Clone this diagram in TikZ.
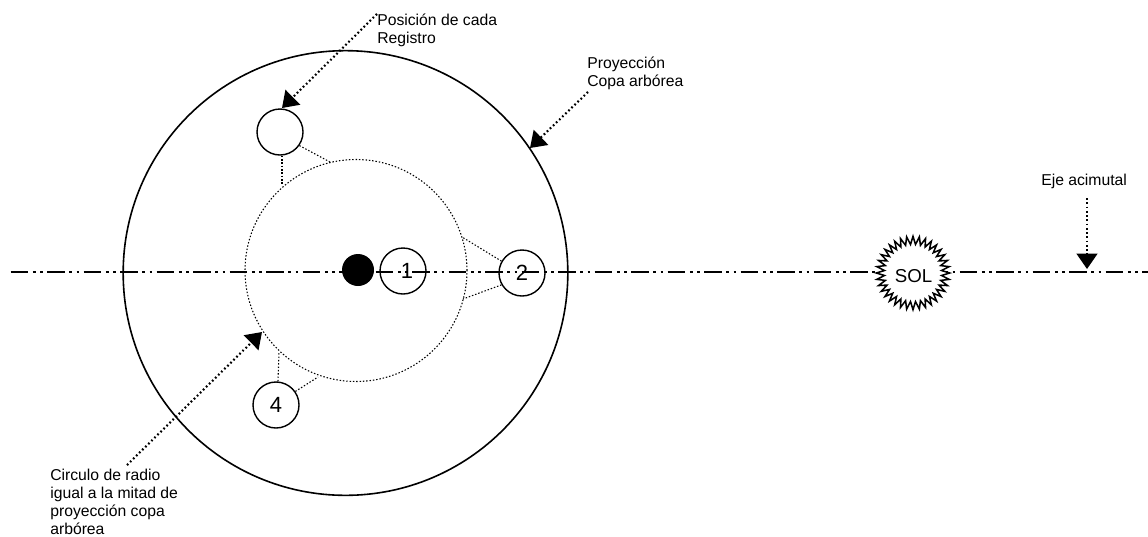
\documentclass[tikz,border=0pt]{standalone}
\usepackage{fontspec}
\setmainfont{Liberation Sans}
\usetikzlibrary{arrows.meta,shapes.geometric}

\tikzset{
    registro/.style={circle, draw, line width=1.05pt, fill=white, minimum size=34.5pt, inner sep=0pt, font=\fontsize{16.5}{16.5}\selectfont},
    nota/.style={align=left, anchor=north west, inner sep=0pt, font=\fontsize{11.8}{13.4}\selectfont},
    flecha/.style={line width=1.6pt, dash pattern=on 1.3pt off 1.9pt, -{Triangle[length=11.5pt,width=15.5pt]}},
    guia/.style={line width=0.8pt, dash pattern=on 1.1pt off 1.4pt},
}

\begin{document}
\begin{tikzpicture}[x=0.75pt,y=-0.75pt]
    \useasboundingbox (0,0) rectangle (1148,536);

    % Axis
    \coordinate (ejeA) at (10.7,271.7);
    \coordinate (ejeB) at (1148,271.7);
    \draw[line width=1.3pt, dash pattern=on 13.3pt off 3.4pt on 1.9pt off 3.4pt on 1.9pt off 3.475pt] (ejeA) -- (ejeB);

    % Crown projection
    \node[circle, draw, line width=1.2pt, minimum size=333.5pt, inner sep=0pt] (copa) at (345.5,273) {};
    \node[circle, guia, draw, minimum size=166.5pt, inner sep=0pt] (mitad) at (356,270.5) {};

    % Records
    \node[circle, fill=black, minimum size=24pt, inner sep=0pt] (tronco) at (358,270) {};
    \node[registro, fill=none] (r1) at (403,271) {\kern6pt 1};
    \node[registro, fill=none] (r2) at (522,273) {2};
    \node[registro] (r3) at (280,132) {};
    \node[registro] (r4) at (276,405) {4};

    % Dotted links
    \coordinate (m1) at (282,185);
    \coordinate (m2) at (330,162);
    \coordinate (m3) at (462,237);
    \coordinate (m4) at (463,299);
    \coordinate (m5) at (279,352);
    \coordinate (m6) at (318,377);
    \draw[guia] (r3.south) ++(2,0) -- (m1);
    \draw[guia] (r3.-35) -- (m2);
    \draw[guia] (r2.150) -- (m3);
    \draw[guia] (r2.210) -- (m4);
    \draw[guia] (r4.north) ++(2,0) -- (m5);
    \draw[guia] (r4.35) -- (m6);

    % Sun
    \node[star, star points=36, star point ratio=1.28, draw, fill=white, line width=1.15pt, minimum size=55pt, inner sep=0pt] (sol) at (913,273) {};
    \node[font=\fontsize{14}{14}\selectfont, inner sep=0pt] (soltxt) at (913.5,276) {SOL};

    % Labels
    \node[nota] (n1) at (377,14) {Posición de cada\\Registro};
    \node[nota] (n2) at (587,57) {Proyección\\Copa arbórea};
    \node[nota] (n3) at (1041,174) {Eje acimutal};
    \node[nota] (n4) at (50,469) {Circulo de radio\\igual a la mitad de\\proyección copa\\arbórea};

    % Arrows
    \coordinate (p1) at (377,14);
    \coordinate (p2) at (282,108);
    \coordinate (p3) at (588,92);
    \coordinate (p4) at (530,148);
    \coordinate (p5) at (127,465);
    \coordinate (p6) at (262,332);
    \coordinate (p7) at (1087,198);
    \coordinate (p8) at (1087,269);
    \draw[flecha] (p1) -- (p2);
    \draw[flecha] (p3) -- (p4);
    \draw[flecha] (p5) -- (p6);
    \draw[flecha] (p7) -- (p8);
\end{tikzpicture}
\end{document}
